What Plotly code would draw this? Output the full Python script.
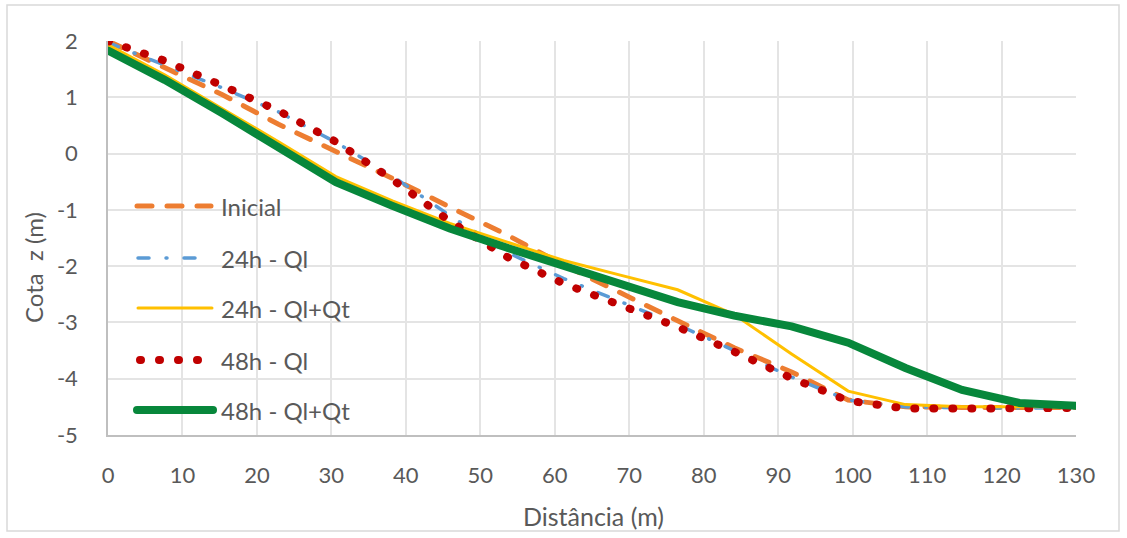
import plotly.graph_objects as go

# Profile distances (m)
dist = [0, 7.6, 15.3, 22.9, 30.6, 38.2, 45.9, 53.5, 61.2, 68.8,
        76.5, 84.1, 91.8, 99.4, 107.1, 114.7, 122.4, 130]

# Bed elevation z (m) for each scenario
inicial = [2.00, 1.54, 1.05, 0.52, 0.04, -0.44, -0.95, -1.44, -1.98, -2.48,
           -2.97, -3.45, -3.88, -4.38, -4.50, -4.51, -4.51, -4.51]
h24_ql = [1.97, 1.58, 1.17, 0.74, 0.20, -0.40, -1.10, -1.75, -2.22, -2.63,
          -3.04, -3.50, -3.97, -4.38, -4.50, -4.52, -4.52, -4.52]
h24_qlqt = [1.93, 1.40, 0.80, 0.21, -0.41, -0.84, -1.24, -1.57, -1.90, -2.16,
            -2.42, -2.86, -3.56, -4.22, -4.46, -4.50, -4.50, -4.50]
h48_ql = [2.00, 1.65, 1.21, 0.76, 0.21, -0.46, -1.20, -1.83, -2.31, -2.70,
          -3.08, -3.52, -3.99, -4.39, -4.53, -4.53, -4.52, -4.52]
h48_qlqt = [1.83, 1.31, 0.72, 0.12, -0.51, -0.93, -1.33, -1.67, -2.00, -2.30,
            -2.64, -2.88, -3.07, -3.36, -3.81, -4.20, -4.43, -4.48]

x_ticks = list(range(0, 131, 10))
y_ticks = list(range(-5, 3, 1))

names = ["Inicial", "24h - Ql", "24h - Ql+Qt", "48h - Ql", "48h - Ql+Qt"]
series = [inicial, h24_ql, h24_qlqt, h48_ql, h48_qlqt]
styles = [
    dict(color="#ED7D31", width=5, dash="15px,15px"),
    dict(color="#5B9BD5", width=3.5, dash="11px,17px,1px,17px"),
    dict(color="#FFC000", width=3, dash="solid"),
    dict(color="#C00000", width=8, dash="1px,18px"),
    dict(color="#07873B", width=8, dash="solid"),
]

TXT = "#595959"
FONT = "Lato"

fig = go.Figure()
for name, ys, st in zip(names, series, styles):
    fig.add_trace(go.Scatter(x=dist, y=ys, mode="lines", name=name,
                             line=st, showlegend=False))

# Plot-area geometry (px) used to place the in-plot key and titles
L, R, T, B = 108, 1076, 41, 435
W, H = R - L, B - T


def px_x(v):
    return (v - L) / W


def px_y(v):
    return (B - v) / H


shapes = []
annotations = []
key_y = [206, 258, 308, 360, 410]
key_x = [(137, 211), (138, 199), (138, 212), (140, 199), (137, 213)]
for name, st, yy, (xa, xb) in zip(names, styles, key_y, key_x):
    shapes.append(dict(type="line", xref="paper", yref="paper",
                       x0=px_x(xa), x1=px_x(xb), y0=px_y(yy), y1=px_y(yy),
                       line=st))
    annotations.append(dict(text=name, xref="paper", yref="paper",
                            x=px_x(219), y=px_y(yy), xanchor="left",
                            yanchor="middle", showarrow=False,
                            font=dict(family=FONT, size=24, color=TXT)))

# Axis titles
annotations.append(dict(text="Distância (m)", xref="paper", yref="paper",
                        x=px_x(593), y=px_y(516), xanchor="center",
                        yanchor="middle", showarrow=False,
                        font=dict(family=FONT, size=25, color=TXT)))
annotations.append(dict(text="Cota\u00a0 z (m)", xref="paper", yref="paper",
                        x=px_x(33), y=px_y(268), xanchor="center",
                        yanchor="middle", showarrow=False, textangle=-90,
                        font=dict(family=FONT, size=24, color=TXT)))

# Outer chart frame
shapes.append(dict(type="rect", xref="paper", yref="paper",
                   x0=px_x(7), x1=px_x(1119), y0=px_y(531), y1=px_y(5),
                   line=dict(color="#D9D9D9", width=1.5), layer="below"))

fig.update_layout(
    width=1127, height=538,
    margin=dict(l=L, r=1127 - R, t=T, b=538 - B),
    paper_bgcolor="white", plot_bgcolor="white",
    font=dict(family=FONT, color=TXT, size=22),
    shapes=shapes, annotations=annotations,
    showlegend=False,
)
fig.update_xaxes(
    range=[0, 130], tickvals=x_ticks, ticktext=[str(v) for v in x_ticks],
    showgrid=True, gridcolor="#E4E4E4", gridwidth=1.5,
    showline=True, linecolor="#BFBFBF", linewidth=1.5,
    zeroline=False, ticks="", ticklabelstandoff=20,
    tickfont=dict(family=FONT, size=22, color=TXT),
)
fig.update_yaxes(
    range=[-5, 2], tickvals=y_ticks, ticktext=[str(v) for v in y_ticks],
    showgrid=True, gridcolor="#E4E4E4", gridwidth=1.5,
    showline=True, linecolor="#BFBFBF", linewidth=1.5,
    zeroline=False, ticks="", ticklabelstandoff=24,
    tickfont=dict(family=FONT, size=22, color=TXT),
)

# Rounded line caps give the dotted and dashed strokes their rounded ends
post = """
var gd = document.getElementById('{plot_id}');
function roundCaps(){
  gd.querySelectorAll('.scatterlayer path.js-line, .shapelayer path').forEach(function(p){
    p.style.strokeLinecap = 'round';
  });
}
roundCaps();
gd.on('plotly_afterplot', roundCaps);
"""

fig.write_html("out.html", post_script=post)
